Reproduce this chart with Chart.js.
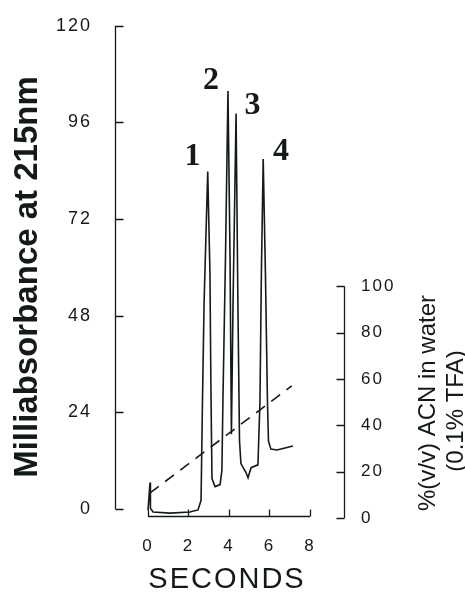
<!DOCTYPE html>
<html>
<head>
<meta charset="utf-8">
<script src="https://cdn.jsdelivr.net/npm/chart.js@4/dist/chart.umd.min.js"></script>
<style>
html,body{margin:0;padding:0;background:#fff;}
canvas{display:block;}
</style>
</head>
<body>
<canvas id="c" width="465" height="592"></canvas>
<script>
// ---- data ----
const times = [0, 0.1, 0.12, 0.25, 1.09, 2.07, 2.47, 2.62, 2.69, 2.77, 2.95, 3.06, 3.11, 3.16, 3.31, 3.56, 3.65, 3.70, 3.83, 3.95, 4.05, 4.12, 4.20, 4.35, 4.44, 4.52, 4.59, 4.84, 4.94, 5.09, 5.43, 5.53, 5.60, 5.69, 5.80, 5.90, 5.95, 6.07, 6.37, 6.77, 7.16];
const absorbance = [-0.25, 6.6, 0.2, -0.7, -1.0, -0.7, -0.2, 2.2, 26.7, 51.2, 83.8, 58.5, 29.1, 7.6, 5.6, 6.1, 9.6, 26.7, 63.4, 103.8, 63.4, 18.6, 51.2, 98.2, 51.2, 16.9, 11.3, 9.1, 7.8, 10.3, 11.0, 26.7, 58.5, 86.9, 58.5, 26.7, 16.9, 14.9, 14.7, 15.2, 15.7];
const gradientTimes = [0.1, 7.1];
const gradientACN = [10.8, 57];
const xTicks = [0, 2, 4, 6, 8];
const leftTicks = [0, 24, 48, 72, 96, 120];
const rightTicks = [0, 20, 40, 60, 80, 100];
const peakLabels = ['1', '2', '3', '4'];
const peakLabelX = [2.20, 3.11, 5.16, 6.57];
const peakLabelY = [85.5, 104.3, 98.2, 86.7];
const leftTitle = 'Milliabsorbance at 215nm';
const rightTitle1 = '%(v/v) ACN in water';
const rightTitle2 = '(0.1% TFA)';
const xTitle = 'SECONDS';

const INK = '#141a18';

const trace = times.map((t, i) => ({x: t, y: absorbance[i]}));
const grad = gradientTimes.map((t, i) => ({x: t, y: gradientACN[i]}));

const setTicks = arr => (scale) => { scale.ticks = arr.map(v => ({value: v})); };

const axesPlugin = {
  id: 'axesPlugin',
  beforeDraw(chart) {
    chart.ctx.letterSpacing = '2px';
  },
  afterDraw(chart) {
    const ctx = chart.ctx;
    const xs = chart.scales.x, yl = chart.scales.y, yr = chart.scales.y2;
    const ca = chart.chartArea;
    ctx.save();
    ctx.letterSpacing = '0px';
    ctx.strokeStyle = INK;
    ctx.lineWidth = 1.3;
    // left axis
    const lx = ca.left + 0.5;
    ctx.beginPath();
    ctx.moveTo(lx, yl.getPixelForValue(leftTicks[0]));
    ctx.lineTo(lx, yl.getPixelForValue(leftTicks[leftTicks.length - 1]));
    leftTicks.forEach(v => {
      const p = Math.round(yl.getPixelForValue(v)) + 0.5;
      ctx.moveTo(lx, p); ctx.lineTo(lx + 8, p);
    });
    ctx.stroke();
    // right axis
    const rx = ca.right - 0.5;
    ctx.beginPath();
    ctx.moveTo(rx, yr.getPixelForValue(rightTicks[0]));
    ctx.lineTo(rx, yr.getPixelForValue(rightTicks[rightTicks.length - 1]));
    rightTicks.forEach(v => {
      const p = Math.round(yr.getPixelForValue(v)) + 0.5;
      ctx.moveTo(rx, p); ctx.lineTo(rx - 8, p);
    });
    ctx.stroke();
    // x axis
    const by = ca.bottom - 1.5;
    ctx.beginPath();
    ctx.moveTo(xs.getPixelForValue(xTicks[0]), by);
    ctx.lineTo(xs.getPixelForValue(xTicks[xTicks.length - 1]), by);
    xTicks.forEach(v => {
      const p = Math.round(xs.getPixelForValue(v)) + 0.5;
      ctx.moveTo(p, by); ctx.lineTo(p, by - 7);
    });
    ctx.stroke();

    ctx.fillStyle = INK;
    // peak labels
    ctx.font = 'bold 32px "Liberation Serif", "Times New Roman", serif';
    ctx.textAlign = 'center';
    ctx.textBaseline = 'alphabetic';
    peakLabels.forEach((lab, i) => {
      ctx.fillText(lab, xs.getPixelForValue(peakLabelX[i]), yl.getPixelForValue(peakLabelY[i]));
    });
    // left title
    ctx.save();
    ctx.translate(37, 277);
    ctx.rotate(-Math.PI / 2);
    ctx.font = 'bold 33px "Liberation Sans", Arial, sans-serif';
    ctx.fillText(leftTitle, 0, 0);
    ctx.restore();
    // right title
    ctx.save();
    ctx.translate(435, 403);
    ctx.rotate(-Math.PI / 2);
    ctx.font = '24px "Liberation Sans", Arial, sans-serif';
    ctx.fillText(rightTitle1, 0, 0);
    ctx.restore();
    ctx.save();
    ctx.translate(463, 411);
    ctx.rotate(-Math.PI / 2);
    ctx.font = '24px "Liberation Sans", Arial, sans-serif';
    ctx.fillText(rightTitle2, 0, 0);
    ctx.restore();
    // x title
    ctx.font = '29px "Liberation Sans", Arial, sans-serif';
    ctx.letterSpacing = '2px';
    ctx.fillText(xTitle, 227, 588);
    ctx.restore();
  }
};

new Chart(document.getElementById('c'), {
  type: 'line',
  data: {
    datasets: [
      {data: trace, xAxisID: 'x', yAxisID: 'y', borderColor: INK, borderWidth: 1.6, pointRadius: 0, tension: 0, fill: false},
      {data: grad, xAxisID: 'x', yAxisID: 'y2', borderColor: INK, borderWidth: 1.6, borderDash: [11, 8], pointRadius: 0, tension: 0, fill: false}
    ]
  },
  options: {
    responsive: false,
    animation: false,
    devicePixelRatio: 1,
    layout: {padding: {top: 19, left: 0, right: 0, bottom: 0}},
    plugins: {legend: {display: false}, tooltip: {enabled: false}},
    scales: {
      x: {
        type: 'linear', position: 'bottom', min: -1.63, max: 9.73,
        afterBuildTicks: setTicks(xTicks),
        afterFit: s => { s.height = 74; },
        grid: {display: false}, border: {display: false},
        ticks: {padding: 10, color: INK, font: {family: '"Liberation Sans", Arial, sans-serif', size: 17}, maxRotation: 0, autoSkip: false}
      },
      y: {
        type: 'linear', position: 'left', min: -2.2, max: 120,
        afterBuildTicks: setTicks(leftTicks),
        afterFit: s => { s.width = 115; },
        grid: {display: false}, border: {display: false},
        ticks: {padding: 15, color: INK, font: {family: '"Liberation Sans", Arial, sans-serif', size: 18}, autoSkip: false}
      },
      y2: {
        type: 'linear', position: 'right', min: 0, max: 212.3,
        afterBuildTicks: setTicks(rightTicks),
        afterFit: s => { s.width = 120; },
        grid: {display: false}, border: {display: false},
        ticks: {padding: 8, color: INK, font: {family: '"Liberation Sans", Arial, sans-serif', size: 17}, autoSkip: false}
      }
    }
  },
  plugins: [axesPlugin]
});
</script>
</body>
</html>
